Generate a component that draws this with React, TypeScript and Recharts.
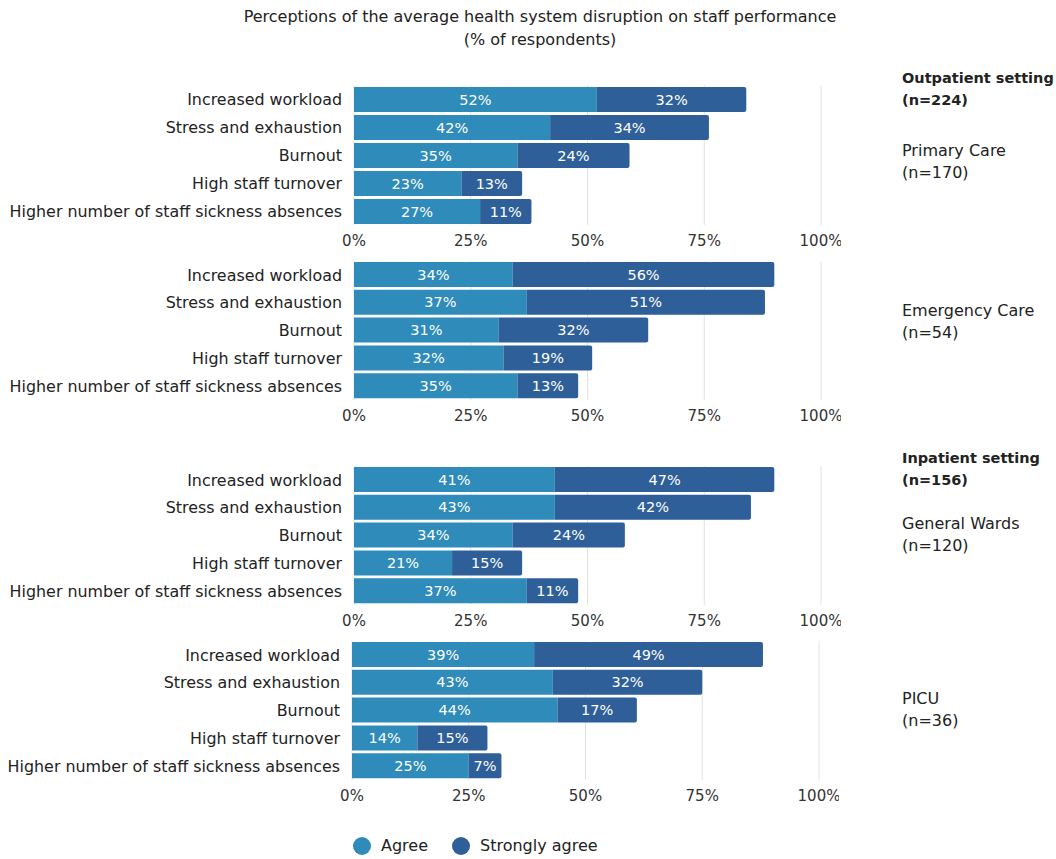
import React from "react";
import {
  BarChart,
  Bar,
  XAxis,
  YAxis,
  CartesianGrid,
  LabelList,
} from "recharts";

const FONT = "'DejaVu Sans', sans-serif";
const AGREE_COLOR = "#2e8bba";
const STRONG_COLOR = "#2e5f98";

const categories = [
  "Increased workload",
  "Stress and exhaustion",
  "Burnout",
  "High staff turnover",
  "Higher number of staff sickness absences",
];
const seriesNames = ["Agree", "Strongly agree"];
const xTicks = [0, 25, 50, 75, 100];

// bar lengths per panel
const primaryAgree = [52, 42, 35, 23, 27];
const primaryStrong = [32, 34, 24, 13, 11];
const emergencyAgree = [34, 37, 31, 32, 35];
const emergencyStrong = [56, 51, 32, 19, 13];
const wardsAgree = [43, 43, 34, 21, 37];
const wardsStrong = [47, 42, 24, 15, 11];
// the printed label on the first wards bar differs from its drawn length
const wardsAgreeLabels = [41, 43, 34, 21, 37];
const picuAgree = [39, 43, 44, 14, 25];
const picuStrong = [49, 32, 17, 15, 7];

type Row = {
  name: string;
  agree: number;
  strong: number;
  agreeLabel: string;
  strongLabel: string;
};

function buildRows(agree: number[], strong: number[], agreeLabels = agree): Row[] {
  return categories.map((name, i) => ({
    name,
    agree: agree[i],
    strong: strong[i],
    agreeLabel: agreeLabels[i] + "%",
    strongLabel: strong[i] + "%",
  }));
}

interface PanelProps {
  rows: Row[];
  top: number;
  left: number;
  plotHeight: number;
}

function Panel({ rows, top, left, plotHeight }: PanelProps) {
  const axisW = 354;
  const plotW = 467;
  return (
    <div style={{ position: "absolute", top, left }}>
      <BarChart
        width={axisW + plotW + 20}
        height={plotHeight + 30}
        data={rows}
        layout="vertical"
        margin={{ top: 0, right: 20, bottom: 0, left: 0 }}
        barSize={25}
      >
        <CartesianGrid horizontal={false} stroke="#e2e2e2" />
        <XAxis
          type="number"
          domain={[0, 100]}
          ticks={xTicks}
          tickFormatter={(v) => v + "%"}
          axisLine={false}
          tickLine={false}
          tickMargin={4}
          height={30}
          tick={{ fill: "#333", fontSize: 15, fontFamily: FONT }}
        />
        <YAxis
          type="category"
          dataKey="name"
          width={axisW}
          axisLine={false}
          tickLine={false}
          tickMargin={6}
          tick={{ fill: "#222", fontSize: 15.9, fontFamily: FONT }}
        />
        <Bar
          dataKey="agree"
          stackId="a"
          fill={AGREE_COLOR}
          isAnimationActive={false}
        >
          <LabelList
            dataKey="agreeLabel"
            position="center"
            fill="#fff"
            fontSize={14.5}
            fontFamily={FONT}
          />
        </Bar>
        <Bar
          dataKey="strong"
          stackId="a"
          fill={STRONG_COLOR}
          radius={[0, 2, 2, 0]}
          isAnimationActive={false}
        >
          <LabelList
            dataKey="strongLabel"
            position="center"
            fill="#fff"
            fontSize={14.5}
            fontFamily={FONT}
          />
        </Bar>
      </BarChart>
    </div>
  );
}

const textStyle: React.CSSProperties = {
  position: "absolute",
  fontFamily: FONT,
  fontSize: 16,
  lineHeight: "22px",
  color: "#222",
  whiteSpace: "nowrap",
};

function Note({ top, lines, bold }: { top: number; lines: string[]; bold?: boolean }) {
  return (
    <div
      style={{
        ...textStyle,
        left: 902,
        top,
        fontWeight: bold ? 600 : 400,
        fontSize: bold ? 14.5 : 16,
      }}
    >
      {lines.map((l) => (
        <div key={l}>{l}</div>
      ))}
    </div>
  );
}

export default function App() {
  return (
    <div
      style={{
        position: "absolute",
        left: 0,
        top: 0,
        width: 1056,
        height: 859,
        background: "#fff",
        overflow: "hidden",
      }}
    >
      <div
        style={{
          ...textStyle,
          left: 0,
          width: 1080,
          top: 5,
          textAlign: "center",
          lineHeight: "23px",
        }}
      >
        <div>Perceptions of the average health system disruption on staff performance</div>
        <div>(% of respondents)</div>
      </div>

      <Panel rows={buildRows(primaryAgree, primaryStrong)} top={85} left={0} plotHeight={140} />
      <Panel rows={buildRows(emergencyAgree, emergencyStrong)} top={261} left={0} plotHeight={139} />
      <Panel
        rows={buildRows(wardsAgree, wardsStrong, wardsAgreeLabels)}
        top={466}
        left={0}
        plotHeight={139}
      />
      <Panel rows={buildRows(picuAgree, picuStrong)} top={641} left={-2} plotHeight={139} />

      <Note top={67} lines={["Outpatient setting", "(n=224)"]} bold />
      <Note top={140} lines={["Primary Care", "(n=170)"]} />
      <Note top={300} lines={["Emergency Care", "(n=54)"]} />
      <Note top={447} lines={["Inpatient setting", "(n=156)"]} bold />
      <Note top={513} lines={["General Wards", "(n=120)"]} />
      <Note top={688} lines={["PICU", "(n=36)"]} />

      {seriesNames.map((s, i) => (
        <div
          key={s}
          style={{
            ...textStyle,
            top: 835,
            left: i === 0 ? 353 : 452,
            display: "flex",
            alignItems: "center",
          }}
        >
          <span
            style={{
              display: "inline-block",
              width: 18,
              height: 18,
              borderRadius: 9,
              background: i === 0 ? AGREE_COLOR : STRONG_COLOR,
              marginRight: 10,
            }}
          />
          {s}
        </div>
      ))}
    </div>
  );
}
